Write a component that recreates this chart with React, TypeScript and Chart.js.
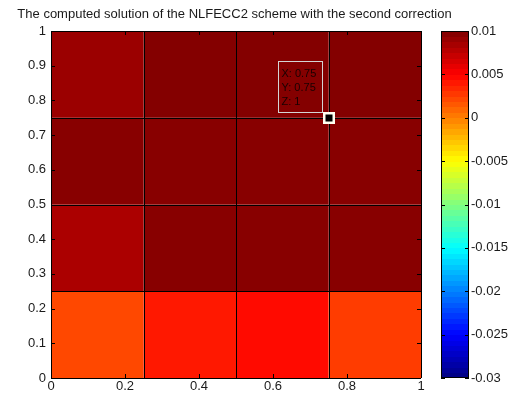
import React, { useEffect, useRef } from "react";
import { Chart, registerables } from "chart.js";

Chart.register(...registerables);

const TITLE = "The computed solution of the NLFECC2 scheme with the second correction";
const X_EDGES = [0, 0.25, 0.5, 0.75, 1];
const Y_EDGES = [0, 0.25, 0.5, 0.75, 1];
// cell values, rows from bottom (y=0..0.25) to top (y=0.75..1)
const Z_ROW_1 = [0.00218, 0.00406, 0.0046, 0.00265];
const Z_ROW_2 = [0.0083, 0.00967, 0.00967, 0.00967];
const Z_ROW_3 = [0.00967, 0.00967, 0.00967, 0.00967];
const Z_ROW_4 = [0.00892, 0.00982, 0.00982, 0.00982];
const Z_ROWS = [Z_ROW_1, Z_ROW_2, Z_ROW_3, Z_ROW_4];
const C_MIN = -0.03;
const C_MAX = 0.01;
const CBAR_STEP = 0.005;
const TIP_X = 0.75;
const TIP_Y = 0.75;
const TIP_LINES = ["X: 0.75", "Y: 0.75", "Z: 1"];

const FONT = "'Liberation Sans', Arial, Helvetica, sans-serif";
const TXT = "#1a1a1a";

function jet(t: number): string {
  const c = (x: number) => Math.max(0, Math.min(1, x));
  const r = c(1.5 - Math.abs(4 * t - 3));
  const g = c(1.5 - Math.abs(4 * t - 2));
  const b = c(1.5 - Math.abs(4 * t - 1));
  return `rgb(${Math.round(r * 255)},${Math.round(g * 255)},${Math.round(b * 255)})`;
}
const colorFor = (v: number) => jet((v - C_MIN) / (C_MAX - C_MIN));
const fmt = (v: number) => String(Math.round(v * 1000) / 1000);

const cellsPlugin = {
  id: "cells",
  beforeDatasetsDraw(chart: any) {
    const { ctx, scales } = chart;
    const xs = scales.x, ys = scales.y;
    ctx.save();
    for (let r = 0; r < Z_ROWS.length; r++) {
      for (let c = 0; c < Z_ROWS[r].length; c++) {
        const x0 = xs.getPixelForValue(X_EDGES[c]);
        const x1 = xs.getPixelForValue(X_EDGES[c + 1]);
        const y0 = ys.getPixelForValue(Y_EDGES[r]);
        const y1 = ys.getPixelForValue(Y_EDGES[r + 1]);
        ctx.fillStyle = colorFor(Z_ROWS[r][c]);
        ctx.fillRect(x0, y1, x1 - x0, y0 - y1);
      }
    }
    ctx.strokeStyle = "#000";
    ctx.lineWidth = 1;
    const top = ys.getPixelForValue(1), bot = ys.getPixelForValue(0);
    const left = xs.getPixelForValue(0), right = xs.getPixelForValue(1);
    for (const xe of X_EDGES) {
      const px = Math.round(xs.getPixelForValue(xe)) + 0.5;
      ctx.beginPath(); ctx.moveTo(px, top); ctx.lineTo(px, bot); ctx.stroke();
    }
    for (const ye of Y_EDGES) {
      const py = Math.round(ys.getPixelForValue(ye)) + 0.5;
      ctx.beginPath(); ctx.moveTo(left, py); ctx.lineTo(right, py); ctx.stroke();
    }
    // inside ticks
    const tl = 4;
    xs.ticks.forEach((t: any) => {
      const px = Math.round(xs.getPixelForValue(t.value)) + 0.5;
      ctx.beginPath(); ctx.moveTo(px, bot); ctx.lineTo(px, bot - tl); ctx.stroke();
      ctx.beginPath(); ctx.moveTo(px, top); ctx.lineTo(px, top + tl); ctx.stroke();
    });
    ys.ticks.forEach((t: any) => {
      const py = Math.round(ys.getPixelForValue(t.value)) + 0.5;
      ctx.beginPath(); ctx.moveTo(left, py); ctx.lineTo(left + tl, py); ctx.stroke();
      ctx.beginPath(); ctx.moveTo(right, py); ctx.lineTo(right - tl, py); ctx.stroke();
    });
    ctx.restore();
  },
  afterDraw(chart: any) {
    const { ctx, scales } = chart;
    const px = scales.x.getPixelForValue(TIP_X);
    const py = scales.y.getPixelForValue(TIP_Y);
    ctx.save();
    // datatip box
    const bw = 44, bh = 51;
    const bx = Math.round(px - 7 - bw) + 0.5;
    const by = Math.round(py - 6 - bh) + 0.5;
    ctx.strokeStyle = "#d4d4d4";
    ctx.lineWidth = 1;
    ctx.strokeRect(bx, by, bw, bh);
    ctx.fillStyle = "#1a0000";
    ctx.font = `11px ${FONT}`;
    ctx.textBaseline = "middle";
    ctx.textAlign = "left";
    TIP_LINES.forEach((s, i) => ctx.fillText(s, bx + 3, by + 12 + i * 14));
    // marker
    ctx.fillStyle = "#fffff0";
    ctx.fillRect(Math.round(px) - 6, Math.round(py) - 6, 12, 12);
    ctx.fillStyle = "#000";
    ctx.fillRect(Math.round(px) - 3.5, Math.round(py) - 3.5, 7, 7);
    ctx.restore();
  },
};

const cbarPlugin = {
  id: "cbar",
  beforeDatasetsDraw(chart: any) {
    const { ctx, chartArea, scales } = chart;
    const ys = scales.y;
    const n = 64;
    ctx.save();
    for (let i = 0; i < n; i++) {
      const v0 = C_MIN + ((C_MAX - C_MIN) * i) / n;
      const v1 = C_MIN + ((C_MAX - C_MIN) * (i + 1)) / n;
      const y0 = ys.getPixelForValue(v0);
      const y1 = ys.getPixelForValue(v1);
      ctx.fillStyle = jet((i + 0.5) / n);
      ctx.fillRect(chartArea.left, Math.floor(y1), chartArea.right - chartArea.left, Math.ceil(y0) - Math.floor(y1));
    }
    ctx.strokeStyle = "#000";
    ctx.lineWidth = 1;
    ctx.strokeRect(chartArea.left + 0.5, chartArea.top + 0.5, chartArea.right - chartArea.left - 1, chartArea.bottom - chartArea.top - 1);
    ys.ticks.forEach((t: any) => {
      const py = Math.round(ys.getPixelForValue(t.value)) + 0.5;
      ctx.beginPath(); ctx.moveTo(chartArea.left, py); ctx.lineTo(chartArea.left + 4, py); ctx.stroke();
      ctx.beginPath(); ctx.moveTo(chartArea.right, py); ctx.lineTo(chartArea.right - 4, py); ctx.stroke();
    });
    ctx.restore();
  },
};

export default function App() {
  const mainRef = useRef<HTMLCanvasElement | null>(null);
  const barRef = useRef<HTMLCanvasElement | null>(null);

  useEffect(() => {
    const tickFont = { family: FONT, size: 13 };
    const main = new Chart(mainRef.current as HTMLCanvasElement, {
      type: "scatter",
      data: { datasets: [] },
      plugins: [cellsPlugin],
      options: {
        animation: false,
        responsive: false,
        layout: { padding: { left: 0, right: 44, top: 0, bottom: 0 } },
        plugins: {
          legend: { display: false },
          tooltip: { enabled: false },
          title: {
            display: true,
            text: TITLE,
            fullSize: true,
            color: TXT,
            font: { family: FONT, size: 13, weight: "normal", lineHeight: 1.2 },
            padding: { top: 6.2, bottom: 9.2 },
          },
        },
        scales: {
          x: {
            type: "linear",
            min: 0,
            max: 1,
            grid: { display: false, drawTicks: false },
            border: { display: false },
            ticks: { stepSize: 0.2, color: TXT, font: tickFont, padding: 1, maxRotation: 0, callback: (v: any) => fmt(Number(v)) },
            afterFit: (s: any) => { s.height = 19; },
          },
          y: {
            type: "linear",
            min: 0,
            max: 1,
            grid: { display: false, drawTicks: false },
            border: { display: false },
            ticks: { stepSize: 0.1, color: TXT, font: tickFont, padding: 5, callback: (v: any) => fmt(Number(v)) },
            afterFit: (s: any) => { s.width = 51; },
          },
          ySpacer: {
            type: "linear",
            position: "right",
            min: 0,
            max: 1,
            grid: { display: false, drawTicks: false },
            border: { display: false },
            ticks: { display: false },
            afterFit: (s: any) => { s.width = 48; },
          },
        },
      } as any,
    });

    const bar = new Chart(barRef.current as HTMLCanvasElement, {
      type: "scatter",
      data: { datasets: [] },
      plugins: [cbarPlugin],
      options: {
        animation: false,
        responsive: false,
        layout: { padding: { left: 441, right: 0, top: 31, bottom: 19 } },
        plugins: { legend: { display: false }, tooltip: { enabled: false }, title: { display: false } },
        scales: {
          x: { type: "linear", display: false, min: 0, max: 1 },
          y: {
            type: "linear",
            position: "right",
            min: C_MIN,
            max: C_MAX,
            grid: { display: false, drawTicks: false },
            border: { display: false },
            ticks: { stepSize: CBAR_STEP, color: TXT, font: tickFont, padding: 2, callback: (v: any) => fmt(Number(v)) },
            afterFit: (s: any) => { s.width = 44; },
          },
        },
      } as any,
    });

    return () => {
      main.destroy();
      bar.destroy();
    };
  }, []);

  return (
    <div style={{ position: "absolute", left: 0, top: 0, width: 513, height: 397, background: "#fff" }}>
      <canvas ref={mainRef} width={513} height={397} style={{ position: "absolute", left: 0, top: 0 }} />
      <canvas ref={barRef} width={513} height={397} style={{ position: "absolute", left: 0, top: 0 }} />
    </div>
  );
}
